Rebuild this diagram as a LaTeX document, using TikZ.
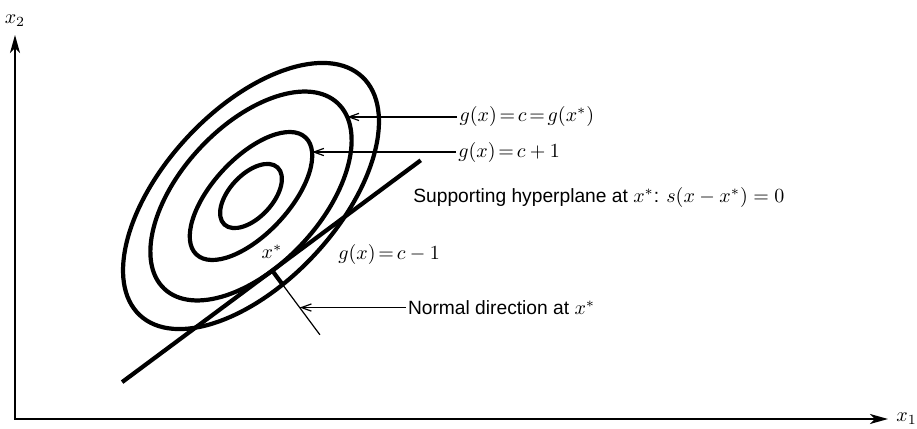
\documentclass[tikz,border=0pt]{standalone}
\usepackage{fontspec}
\setmainfont{Liberation Sans}
\usepackage{tikz}
\usetikzlibrary{arrows.meta,positioning}
\usepackage{amsmath}
\tikzset{
  axisline/.style={
    line width=0.8pt,
    {Stealth[length=9pt,width=5pt,inset=2.5pt]}-{Stealth[length=9pt,width=5pt,inset=2.5pt]}
  },
  levelset/.style={line width=2.1pt},
  hyperline/.style={line width=2.1pt},
  normalline/.style={line width=0.6pt},
  leadarrow/.style={-{Straight Barb[length=5pt,width=3.6pt]}, line width=0.6pt},
  plainlabel/.style={inner sep=1pt, font=\fontsize{9.6}{11}\selectfont},
  levellabel/.style={plainlabel, execute at begin node={\thickmuskip=2.5mu\relax}},
}

\begin{document}
\begin{tikzpicture}[x=0.5pt, y=0.5pt]
  \useasboundingbox (0,0) rectangle (917,429);
  \coordinate (orig) at (15,10);
  \coordinate (xend) at (888,10);
  \coordinate (yend) at (15,394);
  \draw[axisline] (yend) -- (orig) -- (xend);
  \node[plainlabel, right=3pt of xend] (xonelbl) {$x_1$};
  \node[plainlabel, above=3pt of yend] (xtwolbl) {$x_2$};

  \begin{scope}[shift={(251,233)}, rotate=47]
    \draw[levelset] (0,0) ellipse [x radius=39, y radius=21.5];
    \draw[levelset] (0,0) ellipse [x radius=80, y radius=38];
    \draw[levelset] (0,0) ellipse [x radius=127, y radius=70];
    \draw[levelset] (0,0) ellipse [x radius=163, y radius=86.6];
    \coordinate (xstar) at (251.6:127 and 70);
    \coordinate (onC) at (-13.6:127 and 70);
    \coordinate (onCp) at (-22.7:80 and 38);
    \path (xstar) ++(169.6:187) coordinate (hypL)
          (xstar) ++(-10.4:185) coordinate (hypR)
          (xstar) ++(259.6:18) coordinate (nrmMid)
          (xstar) ++(259.6:46) coordinate (nrmP)
          (xstar) ++(259.6:80) coordinate (nrmEnd);
  \end{scope}

  \draw[hyperline] (hypL) -- (hypR);
  \draw[normalline] (xstar) -- (nrmEnd);
  \draw[hyperline] (xstar) -- (nrmMid);

  \node[plainlabel] (xstarlbl) at (272,177) {$x^*$};
  \node[levellabel, right=55pt of onC] (lblc) {$g(x)=c=g(x^*)$};
  \node[levellabel, right=72pt of onCp] (lblcp) {$g(x)=c+1$};
  \node[levellabel, anchor=west] (lblcm) at (336,174) {$g(x)=c-1$};
  \node[plainlabel, anchor=west] (lblsupp) at (411,231) {Supporting hyperplane at $x^*$: $s(x-x^*)=0$};
  \node[plainlabel, right=53pt of nrmP] (lblnorm) {Normal direction at $x^*$};

  \draw[leadarrow] (lblc) -- (onC);
  \draw[leadarrow] (lblcp) -- (onCp);
  \draw[leadarrow] (lblnorm) -- (nrmP);
\end{tikzpicture}
\end{document}
